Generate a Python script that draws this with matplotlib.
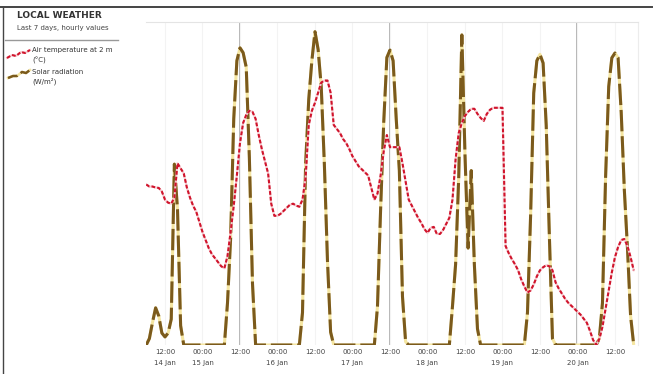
import matplotlib.pyplot as plt
import numpy as np
from matplotlib.lines import Line2D

# hourly readings, first sample at 06:00 on 14 Jan
solar = [
    0, 20, 70, 115, 90, 37, 25, 37, 80, 560, 420, 60,
    0, 0, 0, 0, 0, 0, 0, 0, 0, 0, 0, 0, 0, 0,
    130, 330, 700, 880, 920, 905, 860, 580, 190, 0,
    0, 0, 0, 0, 0, 0, 0, 0, 0, 0, 0, 0, 0, 0,
    100, 560, 760, 880, 970, 915, 800, 560, 260, 40,
    0, 0, 0, 0, 0, 0, 0, 0, 0, 0, 0, 0, 0, 0,
    120, 420, 690, 890, 913, 880, 700, 540, 150, 10,
    0, 0, 0, 0, 0, 0, 0, 0, 0, 0, 0, 0, 0, 0,
    120, 250, 520, 960, 590, 300, 540, 250, 50,
    0, 0, 0, 0, 0, 0, 0, 0, 0, 0, 0, 0, 0, 0, 0,
    100, 400, 780, 880, 900, 873, 680, 340, 20,
    0, 0, 0, 0, 0, 0, 0, 0, 0, 0, 0, 0, 0, 0,
    20, 130, 520, 800, 889, 904, 889, 720, 480, 300, 90, 0,
]

temperature = [
    3.95, 3.85, 3.85, 3.8, 3.78, 3.6, 3.2, 3.05, 3.0, 3.3, 5.0, 4.75,
    4.5, 3.8, 3.3, 2.9, 2.6, 2.1, 1.6, 1.2, 0.8, 0.5, 0.3, 0.1,
    -0.1, -0.2, 0.4, 1.6, 2.9, 4.4, 6.0, 7.0, 7.4, 7.6, 7.55, 7.2,
    6.4, 5.7, 5.1, 4.5, 3.0, 2.4, 2.4, 2.5, 2.65, 2.8, 2.95, 3.0,
    2.9, 2.85, 3.2, 4.3, 6.9, 7.6, 8.0, 8.5, 9.0, 9.1, 9.1, 8.5,
    6.9, 6.7, 6.5, 6.2, 6.0, 5.7, 5.35, 5.1, 4.85, 4.7, 4.55, 4.4,
    3.8, 3.2, 3.5, 4.4, 5.6, 6.4, 5.8, 5.8, 5.8, 5.8, 5.0, 4.1,
    3.2, 2.9, 2.6, 2.3, 2.05, 1.75, 1.55, 1.8, 1.85, 1.5, 1.5, 1.7,
    2.0, 2.3, 3.2, 5.2, 6.5, 7.0, 7.35, 7.55, 7.7, 7.7, 7.45, 7.25,
    7.1, 7.45, 7.65, 7.75, 7.75, 7.75, 7.75, 0.9, 0.55, 0.25, 0.0, -0.3,
    -0.75, -1.1, -1.4, -1.3, -1.0, -0.6, -0.3, -0.15, -0.05, -0.1, -0.3, -0.9,
    -1.2, -1.45, -1.7, -1.9, -2.05, -2.2, -2.35, -2.5, -2.7, -2.9, -3.3, -3.75,
    -4.0, -3.7, -3.1, -2.2, -1.3, -0.4, 0.35, 0.85, 1.2, 1.25, 0.9, 0.35, -0.3,
]

tick_hours = [6, 18, 30, 42, 54, 66, 78, 90, 102, 114, 126, 138, 150]
tick_labels = ['12:00\n14 Jan', '00:00\n15 Jan', '12:00', '00:00\n16 Jan', '12:00',
               '00:00\n17 Jan', '12:00', '00:00\n18 Jan', '12:00', '00:00\n19 Jan',
               '12:00', '00:00\n20 Jan', '12:00']
event_hours = [30, 78, 138]

hours = np.arange(len(solar))

W, H = 654, 374
fig = plt.figure(figsize=(W / 100, H / 100), dpi=100)

ax = fig.add_axes([146.25 / W, 1 - 345 / H, (638.4 - 146.25) / W, 323 / H])
ax.set_xlim(0, 157.5)
ax.set_ylim(0, 1000)
for s in ['left', 'bottom']:
    ax.spines[s].set_visible(False)
ax.spines['top'].set_color('#e4e4e4')
ax.spines['right'].set_color('#ececec')
ax.set_yticks([])
ax.set_xticks(tick_hours, tick_labels)
ax.tick_params(axis='x', length=0, pad=3, labelsize=5, labelcolor='#444444')
for lab in ax.get_xticklabels():
    lab.set_verticalalignment('top')
    lab.set_linespacing(1.9)
ax.grid(axis='x', color='#f3f3f3', lw=0.8)

for h in event_hours:
    ax.axvline(h, color='#a8a8a8', lw=1.2, zorder=1)

ax.plot(hours, solar, color='#f5e6a2', lw=2.2, zorder=2, solid_capstyle='butt')
ax.plot(hours, solar, color='#7b5a1c', lw=2.2, zorder=3, dashes=(7, 1.6))

ax2 = ax.twinx()
ax2.set_ylim(-4, 12)
ax2.set_yticks([])
for s in ax2.spines.values():
    s.set_visible(False)
ax2.plot(hours, temperature, color='#f6c9cf', lw=1.5, zorder=2)
ax2.plot(hours, temperature, color='#d0142c', lw=1.5, zorder=3, dashes=(1.8, 1.0))

# frame and legend panel
fig.add_artist(Line2D([0, 652 / W], [1 - 7 / H, 1 - 7 / H], color='#444444', lw=1.4))
fig.add_artist(Line2D([3 / W, 3 / W], [0, 1 - 7 / H], color='#444444', lw=1.0))
fig.add_artist(Line2D([5 / W, 118 / W], [1 - 40 / H, 1 - 40 / H], color='#999999', lw=1.0))

fig.text(17 / W, 1 - 15 / H, 'LOCAL WEATHER', fontsize=6.5, fontweight='bold',
         color='#333333', va='center')
fig.text(17 / W, 1 - 28 / H, 'Last 7 days, hourly values', fontsize=5,
         color='#444444', va='center')

leg = fig.add_axes([0, 0, 1, 1], zorder=-1)
leg.set_xlim(0, W)
leg.set_ylim(H, 0)
leg.axis('off')
leg.plot([7, 12, 16, 21, 25, 30], [58, 55, 56, 52, 53, 50], color='#f6c9cf', lw=1.5)
leg.plot([7, 12, 16, 21, 25, 30], [58, 55, 56, 52, 53, 50], color='#d0142c', lw=1.5,
         dashes=(1.8, 1.0))
leg.plot([8, 13, 17, 22, 26, 30], [78, 76, 76, 72, 73, 70], color='#f5e6a2', lw=1.8)
leg.plot([8, 13, 17, 22, 26, 30], [78, 76, 76, 72, 73, 70], color='#7b5a1c', lw=1.8,
         dashes=(4, 1.6))
fig.text(32 / W, 1 - 50 / H, 'Air temperature at 2 m', fontsize=5, color='#333333', va='center')
fig.text(32 / W, 1 - 60 / H, '(\u00b0C)', fontsize=5, color='#333333', va='center')
fig.text(32 / W, 1 - 72 / H, 'Solar radiation', fontsize=5, color='#333333', va='center')
fig.text(32 / W, 1 - 81 / H, '(W/m\u00b2)', fontsize=5, color='#333333', va='center')

fig.savefig('out.png', dpi=100)
